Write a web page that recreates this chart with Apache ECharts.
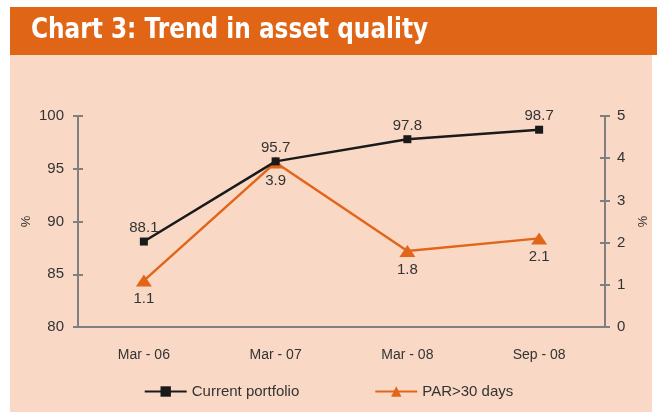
<!DOCTYPE html>
<html>
<head>
<meta charset="utf-8">
<script src="https://cdn.jsdelivr.net/npm/echarts@6/dist/echarts.min.js"></script>
<style>
  html, body { margin: 0; padding: 0; background: #ffffff; }
  #chart { width: 657px; height: 412px; }
</style>
</head>
<body>
<div id="chart"></div>
<script>
const categories = ['Mar - 06', 'Mar - 07', 'Mar - 08', 'Sep - 08']
const currentPortfolio = [88.1, 95.7, 97.8, 98.7]
const par30 = [1.1, 3.9, 1.8, 2.1]
const leftTicks = [80, 85, 90, 95, 100]
const rightTicks = [0, 1, 2, 3, 4, 5]

const axisGrey = '#7f7f7f'
const textGrey = '#333333'
const orange = '#e2661a'
const font = '"Liberation Sans", Arial, sans-serif'

const chart = echarts.init(document.getElementById('chart'))

const yBase = {
  type: 'value',
  splitLine: { show: false },
  axisLine: { show: true, lineStyle: { color: axisGrey, width: 2 } },
  axisTick: { show: true, length: 5, lineStyle: { color: axisGrey, width: 2 } },
  axisLabel: { color: textGrey, fontSize: 15, fontFamily: font }
}

const options = {
  backgroundColor: '#ffffff',
  animation: false,
  graphic: [
    { type: 'rect', z: -10, shape: { x: 10, y: 55, width: 642, height: 357 }, style: { fill: '#f9d9c5' } },
    { type: 'rect', z: -9, shape: { x: 10, y: 7, width: 647, height: 48 }, style: { fill: '#e06516' } },
    {
      type: 'text', x: 31, y: 31, scaleX: 0.83,
      style: { text: 'Chart 3: Trend in asset quality', fill: '#ffffff', verticalAlign: 'middle', font: 'bold 28px "DejaVu Sans", sans-serif' }
    }
  ],
  grid: { left: 78, right: 52, top: 116, bottom: 85, outerBoundsMode: 'none' },
  legend: {
    bottom: 8,
    left: 'center',
    itemGap: 75,
    itemWidth: 42,
    itemHeight: 13,
    textStyle: { color: textGrey, fontSize: 15, fontFamily: font },
    data: [
      { name: 'Current portfolio' },
      { name: 'PAR>30 days' }
    ]
  },
  xAxis: {
    type: 'category',
    data: categories,
    boundaryGap: true,
    axisLine: { lineStyle: { color: axisGrey, width: 2 } },
    axisTick: { show: false },
    axisLabel: { color: textGrey, fontSize: 14, fontFamily: font, margin: 21 }
  },
  yAxis: [
    Object.assign({}, yBase, {
      min: 80, max: 100, interval: 5, position: 'left',
      name: '%', nameLocation: 'middle', nameGap: 45, nameRotate: 90, nameMoveOverlap: false,
      nameTextStyle: { color: textGrey, fontSize: 13, fontFamily: font },
      axisLabel: Object.assign({}, yBase.axisLabel, { margin: 14 })
    }),
    Object.assign({}, yBase, {
      min: 0, max: 5, interval: 1, position: 'right',
      name: '%', nameLocation: 'middle', nameGap: 30, nameRotate: -90, nameMoveOverlap: false,
      nameTextStyle: { color: textGrey, fontSize: 13, fontFamily: font },
      axisLabel: Object.assign({}, yBase.axisLabel, { margin: 12 })
    }),
    Object.assign({}, yBase, {
      min: 80, max: 100, interval: 5, position: 'left',
      axisLabel: { show: false },
      axisTick: { show: true, inside: true, length: 5, lineStyle: { color: axisGrey, width: 2 } }
    }),
    Object.assign({}, yBase, {
      min: 0, max: 5, interval: 1, position: 'right',
      axisLabel: { show: false },
      axisTick: { show: true, inside: true, length: 5, lineStyle: { color: axisGrey, width: 2 } }
    })
  ],
  series: [
    {
      name: 'Current portfolio',
      type: 'line',
      yAxisIndex: 0,
      data: currentPortfolio,
      symbol: 'rect',
      symbolSize: 8,
      itemStyle: { color: '#1a1a1a' },
      lineStyle: { color: '#1a1a1a', width: 2.5 },
      label: { show: true, position: 'top', distance: 2, color: textGrey, fontSize: 15, fontFamily: font },
      z: 3
    },
    {
      name: 'PAR>30 days',
      type: 'line',
      yAxisIndex: 1,
      data: par30,
      symbol: 'triangle',
      symbolSize: [16, 12],
      itemStyle: { color: orange },
      lineStyle: { color: orange, width: 2.5 },
      label: { show: true, position: 'bottom', distance: 5, color: textGrey, fontSize: 15, fontFamily: font },
      z: 2
    }
  ]
}

chart.setOption(options)
</script>
</body>
</html>
